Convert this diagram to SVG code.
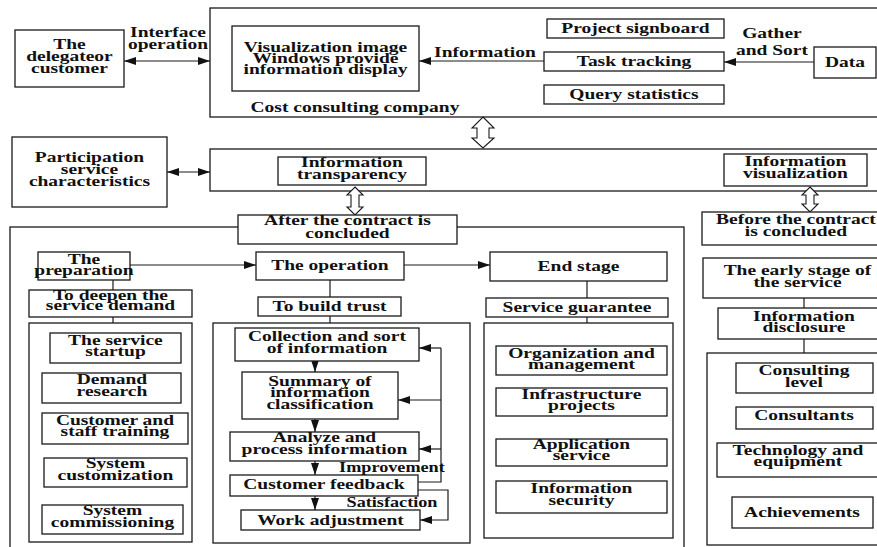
<svg xmlns="http://www.w3.org/2000/svg" width="877" height="547" viewBox="0 0 877 547">
  <style>
    .box { fill: #fff; stroke: #1a1a1a; stroke-width: 1.3; }
    .frame { fill: none; stroke: #1a1a1a; stroke-width: 1.3; }
    .ln { fill: none; stroke: #1a1a1a; stroke-width: 1.2; }
    .hollow { fill: #fff; stroke: #1a1a1a; stroke-width: 1.1; }
    text { font-family: "Liberation Serif", "Times New Roman", serif; font-weight: bold; font-size: 15px; fill: #111; text-anchor: middle; transform-box: fill-box; transform-origin: center; transform: scaleX(1.3); }
    .sm { font-size: 14px; }
  </style>
  <defs>
    <marker id="ah" viewBox="0 0 12 8" refX="12" refY="4" markerWidth="12" markerHeight="8" markerUnits="userSpaceOnUse" orient="auto-start-reverse">
      <path d="M0,0 L12,4 L0,8 Z" fill="#111"/>
    </marker>
  </defs>
  <rect width="877" height="547" fill="#fff"/>

  <!-- outer frames -->
  <g id="company">
    <rect class="frame" x="210" y="8" width="690" height="109"/>
    <text><tspan x="355" y="112">Cost consulting company</tspan></text>
  </g>
  <g id="service-band">
    <rect class="frame" x="210" y="149" width="690" height="42"/>
  </g>
  <g id="after-frame">
    <rect class="frame" x="10" y="227" width="674" height="340"/>
  </g>

  <!-- connectors -->
  <g id="connectors">
    <line class="ln" x1="124" y1="61" x2="210" y2="61" marker-start="url(#ah)" marker-end="url(#ah)"/>
    <line class="ln" x1="544" y1="61" x2="419" y2="61" marker-end="url(#ah)"/>
    <line class="ln" x1="814" y1="62" x2="724" y2="62" marker-end="url(#ah)"/>
    <line class="ln" x1="167" y1="172" x2="210" y2="172" marker-start="url(#ah)" marker-end="url(#ah)"/>
    <polygon class="hollow" points="483,117 494,128 489,128 489,138 494,138 483,148 472,138 477,138 477,128 472,128"/>
    <polygon class="hollow" points="355,187 363,195 359,195 359,207 363,207 355,215 347,207 351,207 351,195 347,195"/>
    <polygon class="hollow" points="810,187 818,195 814,195 814,204 818,204 810,212 802,204 806,204 806,195 802,195"/>
    <line class="ln" x1="130" y1="265" x2="256" y2="265" marker-end="url(#ah)"/>
    <line class="ln" x1="404" y1="265" x2="490" y2="265" marker-end="url(#ah)"/>
    <line class="ln" x1="113" y1="280" x2="113" y2="290"/>
    <line class="ln" x1="113" y1="317" x2="113" y2="323"/>
    <line class="ln" x1="330" y1="280" x2="330" y2="297"/>
    <line class="ln" x1="330" y1="316" x2="330" y2="323"/>
    <line class="ln" x1="587" y1="281" x2="587" y2="298"/>
    <line class="ln" x1="587" y1="317" x2="587" y2="323"/>
    <line class="ln" x1="804" y1="298" x2="804" y2="308"/>
    <line class="ln" x1="804" y1="339" x2="804" y2="353"/>
    <line class="ln" x1="315" y1="361" x2="315" y2="372" marker-end="url(#ah)"/>
    <line class="ln" x1="315" y1="419" x2="315" y2="432" marker-end="url(#ah)"/>
    <line class="ln" x1="315" y1="461" x2="315" y2="475" marker-end="url(#ah)"/>
    <line class="ln" x1="315" y1="496" x2="315" y2="510" marker-end="url(#ah)"/>
    <polyline class="ln" points="418,482 441,482 441,348"/>
    <line class="ln" x1="441" y1="348" x2="419" y2="348" marker-end="url(#ah)"/>
    <line class="ln" x1="441" y1="400" x2="398" y2="400" marker-end="url(#ah)"/>
    <line class="ln" x1="441" y1="449" x2="419" y2="449" marker-end="url(#ah)"/>
    <polyline class="ln" points="418,490 448,490 448,520 420,520" marker-end="url(#ah)"/>
    <text><tspan x="168" y="37.5">Interface</tspan><tspan x="168" y="49.5">operation</tspan></text>
    <text><tspan x="485" y="57">Information</tspan></text>
    <text><tspan x="772" y="38">Gather</tspan><tspan x="772" y="55">and Sort</tspan></text>
    <text class="sm"><tspan x="392" y="472">Improvement</tspan></text>
    <text class="sm"><tspan x="392" y="507">Satisfaction</tspan></text>
  </g>

  <!-- top row -->
  <g id="customer">
    <rect class="box" x="15" y="30" width="109" height="57"/>
    <text><tspan x="69.5" y="49">The</tspan><tspan x="69.5" y="61">delegateor</tspan><tspan x="69.5" y="73">customer</tspan></text>
  </g>
  <g id="display">
    <rect class="box" x="232" y="26" width="187" height="65"/>
    <text><tspan x="325.5" y="52">Visualization image</tspan><tspan x="325.5" y="63.3">Windows provide</tspan><tspan x="325.5" y="74.5">information display</tspan></text>
  </g>
  <g id="signboard">
    <rect class="box" x="547" y="19" width="177" height="19"/>
    <text><tspan x="635.5" y="33">Project signboard</tspan></text>
  </g>
  <g id="tracking">
    <rect class="box" x="544" y="52" width="180" height="19"/>
    <text><tspan x="634" y="66.5">Task tracking</tspan></text>
  </g>
  <g id="query">
    <rect class="box" x="544" y="85" width="180" height="19"/>
    <text><tspan x="634" y="99.5">Query statistics</tspan></text>
  </g>
  <g id="data">
    <rect class="box" x="814" y="47" width="62" height="31"/>
    <text><tspan x="845" y="67">Data</tspan></text>
  </g>

  <!-- second row -->
  <g id="participation">
    <rect class="box" x="12" y="137" width="155" height="70"/>
    <text><tspan x="89.5" y="162.5">Participation</tspan><tspan x="89.5" y="174">service</tspan><tspan x="89.5" y="186">characteristics</tspan></text>
  </g>
  <g id="transparency">
    <rect class="box" x="278" y="157" width="148" height="28"/>
    <text><tspan x="352" y="167.5">Information</tspan><tspan x="352" y="179.5">transparency</tspan></text>
  </g>
  <g id="visualization">
    <rect class="box" x="724" y="154" width="143" height="32"/>
    <text><tspan x="795.5" y="166.5">Information</tspan><tspan x="795.5" y="178.5">visualization</tspan></text>
  </g>
  <g id="after">
    <rect class="box" x="238" y="215" width="219" height="29"/>
    <text><tspan x="347.5" y="225.5">After the contract is</tspan><tspan x="347.5" y="238">concluded</tspan></text>
  </g>
  <g id="before">
    <rect class="box" x="702" y="212" width="188" height="33"/>
    <text><tspan x="796" y="224">Before the contract</tspan><tspan x="796" y="236.5">is concluded</tspan></text>
  </g>

  <!-- preparation column -->
  <g id="preparation">
    <rect class="box" x="38" y="252" width="92" height="28"/>
    <text><tspan x="84" y="264.5">The</tspan><tspan x="84" y="275">preparation</tspan></text>
  </g>
  <g id="deepen">
    <rect class="box" x="29" y="290" width="163" height="27"/>
    <text><tspan x="110.5" y="300">To deepen the</tspan><tspan x="110.5" y="310">service demand</tspan></text>
  </g>
  <g id="prep-list">
    <rect class="frame" x="29" y="323" width="163" height="219"/>
  </g>
  <g id="startup">
    <rect class="box" x="50" y="333" width="131" height="30"/>
    <text><tspan x="115.5" y="345">The service</tspan><tspan x="115.5" y="356">startup</tspan></text>
  </g>
  <g id="research">
    <rect class="box" x="42" y="373" width="139" height="30"/>
    <text><tspan x="112" y="384.5">Demand</tspan><tspan x="112" y="396">research</tspan></text>
  </g>
  <g id="training">
    <rect class="box" x="42" y="413" width="146" height="31"/>
    <text><tspan x="115" y="425.5">Customer and</tspan><tspan x="115" y="436.5">staff training</tspan></text>
  </g>
  <g id="customization">
    <rect class="box" x="44" y="458" width="143" height="29"/>
    <text><tspan x="115.5" y="468.5">System</tspan><tspan x="115.5" y="480.5">customization</tspan></text>
  </g>
  <g id="commissioning">
    <rect class="box" x="42" y="505" width="141" height="29"/>
    <text><tspan x="112.5" y="515.5">System</tspan><tspan x="112.5" y="527">commissioning</tspan></text>
  </g>

  <!-- operation column -->
  <g id="operation">
    <rect class="box" x="256" y="252" width="148" height="28"/>
    <text><tspan x="330" y="270.5">The operation</tspan></text>
  </g>
  <g id="trust">
    <rect class="box" x="258" y="297" width="143" height="19"/>
    <text><tspan x="329.5" y="311">To build trust</tspan></text>
  </g>
  <g id="op-list">
    <rect class="frame" x="213" y="323" width="257" height="220"/>
  </g>
  <g id="collection">
    <rect class="box" x="235" y="328" width="184" height="33"/>
    <text><tspan x="327" y="341">Collection and sort</tspan><tspan x="327" y="353.5">of information</tspan></text>
  </g>
  <g id="summary">
    <rect class="box" x="242" y="372" width="156" height="47"/>
    <text><tspan x="320" y="386">Summary of</tspan><tspan x="320" y="397.5">information</tspan><tspan x="320" y="409">classification</tspan></text>
  </g>
  <g id="analyze">
    <rect class="box" x="230" y="432" width="189" height="29"/>
    <text><tspan x="324.5" y="442.5">Analyze and</tspan><tspan x="324.5" y="454">process information</tspan></text>
  </g>
  <g id="feedback">
    <rect class="box" x="230" y="475" width="188" height="21"/>
    <text><tspan x="324" y="489">Customer feedback</tspan></text>
  </g>
  <g id="adjustment">
    <rect class="box" x="241" y="510" width="179" height="20"/>
    <text><tspan x="330.5" y="525">Work adjustment</tspan></text>
  </g>

  <!-- end stage column -->
  <g id="end-stage">
    <rect class="box" x="490" y="252" width="177" height="29"/>
    <text><tspan x="578.5" y="271">End stage</tspan></text>
  </g>
  <g id="guarantee">
    <rect class="box" x="486" y="298" width="182" height="19"/>
    <text><tspan x="577" y="312">Service guarantee</tspan></text>
  </g>
  <g id="end-list">
    <rect class="frame" x="484" y="323" width="189" height="215"/>
  </g>
  <g id="organization">
    <rect class="box" x="496" y="346" width="171" height="29"/>
    <text><tspan x="581.5" y="358">Organization and</tspan><tspan x="581.5" y="369">management</tspan></text>
  </g>
  <g id="infrastructure">
    <rect class="box" x="496" y="388" width="171" height="28"/>
    <text><tspan x="581.5" y="399">Infrastructure</tspan><tspan x="581.5" y="410">projects</tspan></text>
  </g>
  <g id="application">
    <rect class="box" x="496" y="439" width="171" height="27"/>
    <text><tspan x="581.5" y="449.5">Application</tspan><tspan x="581.5" y="460.5">service</tspan></text>
  </g>
  <g id="security">
    <rect class="box" x="496" y="481" width="171" height="32"/>
    <text><tspan x="581.5" y="493">Information</tspan><tspan x="581.5" y="505">security</tspan></text>
  </g>

  <!-- before-contract column -->
  <g id="early-stage">
    <rect class="box" x="703" y="258" width="190" height="40"/>
    <text><tspan x="797.5" y="275">The early stage of</tspan><tspan x="797.5" y="287">the service</tspan></text>
  </g>
  <g id="disclosure">
    <rect class="box" x="718" y="308" width="175" height="31"/>
    <text><tspan x="804" y="321">Information</tspan><tspan x="804" y="332">disclosure</tspan></text>
  </g>
  <g id="before-list">
    <rect class="frame" x="707" y="353" width="190" height="192"/>
  </g>
  <g id="consulting-level">
    <rect class="box" x="736" y="363" width="137" height="30"/>
    <text><tspan x="804" y="375.5">Consulting</tspan><tspan x="804" y="387">level</tspan></text>
  </g>
  <g id="consultants">
    <rect class="box" x="736" y="407" width="137" height="22"/>
    <text><tspan x="804" y="420.5">Consultants</tspan></text>
  </g>
  <g id="technology">
    <rect class="box" x="717" y="443" width="173" height="34"/>
    <text><tspan x="798" y="455">Technology and</tspan><tspan x="798" y="466.5">equipment</tspan></text>
  </g>
  <g id="achievements">
    <rect class="box" x="732" y="497" width="141" height="31"/>
    <text><tspan x="802" y="517">Achievements</tspan></text>
  </g>
</svg>
